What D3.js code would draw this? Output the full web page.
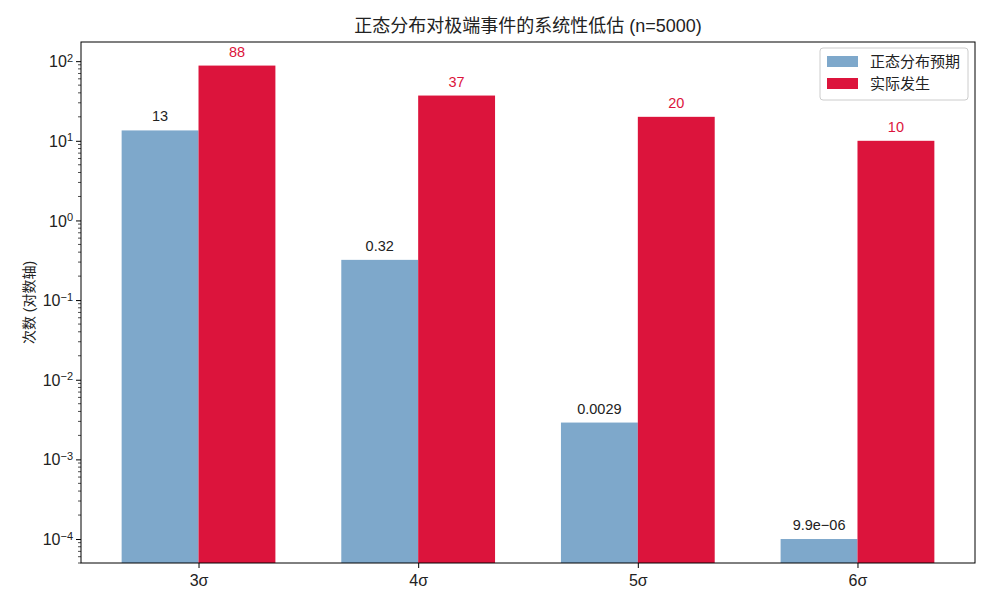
<!DOCTYPE html>
<html>
<head>
<meta charset="utf-8">
<script src="https://cdn.jsdelivr.net/npm/d3@7"></script>
<style>
  body { margin: 0; background: #fff; }
  text { font-family: "Liberation Sans", "Noto Sans CJK SC", sans-serif; fill: #222; }
</style>
</head>
<body>
<div id="chart"></div>
<script>
const categories = ["3σ", "4σ", "5σ", "6σ"];
const expected = [13.5, 0.32, 0.0029, 9.9e-06];      // normal distribution prediction
const expectedLabels = ["13", "0.32", "0.0029", "9.9e−06"];
const actual = [88, 37, 20, 10];
const seriesNames = ["正态分布预期", "实际发生"];
const yTicks = [1e-4, 1e-3, 1e-2, 1e-1, 1, 10, 100];
const floorValue = 1e-4; // bars below this are drawn at the floor

let width = 990, height = 605,
    margin = ({ top: 42, right: 15, bottom: 42, left: 81 });

const svg = d3.select("#chart").append("svg")
    .attr("width", width).attr("height", height);

let x = d3.scaleLinear()
    .domain([-0.535, categories.length - 1 + 0.535])
    .range([margin.left, width - margin.right]);

let y = d3.scaleLog()
    .domain([5e-5, 174])
    .range([height - margin.bottom, margin.top]);

const bw = 0.35;
const blue = "#7ea8cb", red = "#dc143c";

// bars
const g = svg.append("g");
g.selectAll("rect.exp")
  .data(expected)
  .join("rect")
  .attr("x", (d, i) => x(i - bw))
  .attr("width", x(bw) - x(0))
  .attr("y", d => y(Math.max(d, floorValue)))
  .attr("height", d => y(5e-5) - y(Math.max(d, floorValue)))
  .attr("fill", blue);

g.selectAll("rect.act")
  .data(actual)
  .join("rect")
  .attr("x", (d, i) => x(i))
  .attr("width", x(bw) - x(0))
  .attr("y", d => y(d))
  .attr("height", d => y(5e-5) - y(d))
  .attr("fill", red);

// value labels
g.selectAll("text.exp")
  .data(expected)
  .join("text")
  .attr("x", (d, i) => x(i - bw / 2))
  .attr("y", d => y(Math.max(d, floorValue)) - 9)
  .attr("text-anchor", "middle")
  .style("font-size", "14.5px")
  .text((d, i) => expectedLabels[i]);

g.selectAll("text.act")
  .data(actual)
  .join("text")
  .attr("x", (d, i) => x(i + bw / 2))
  .attr("y", d => y(d) - 9)
  .attr("text-anchor", "middle")
  .style("font-size", "14.5px")
  .style("fill", red)
  .text(d => d);

// x axis
const xAxis = svg.append("g")
  .attr("transform", `translate(0,${height - margin.bottom})`)
  .call(d3.axisBottom(x).tickValues(d3.range(categories.length))
    .tickFormat(i => categories[i]).tickSizeOuter(0).tickSize(5));
xAxis.selectAll("text").style("font-size", "16px").attr("dy", "0.95em");
xAxis.select(".domain").remove();

// y axis minor ticks
let minor = [];
for (let e = -5; e <= 2; e++) for (let m = 2; m <= 9; m++) {
  const v = m * Math.pow(10, e);
  if (v >= 5e-5 && v <= 174) minor.push(v);
}
svg.append("g")
  .selectAll("line")
  .data(minor)
  .join("line")
  .attr("x1", margin.left - 3).attr("x2", margin.left)
  .attr("y1", d => y(d)).attr("y2", d => y(d))
  .attr("stroke", "#000").attr("stroke-width", 0.7);

const supMinus = n => (n < 0 ? "−" : "") + Math.abs(n);
const yAxis = svg.append("g")
  .attr("transform", `translate(${margin.left},0)`)
  .call(d3.axisLeft(y).tickValues(yTicks).tickFormat("").tickSize(5).tickSizeOuter(0));
yAxis.select(".domain").remove();
yAxis.selectAll(".tick").each(function(d) {
  const t = d3.select(this).append("text")
    .attr("x", -8).attr("dy", "0.35em")
    .attr("text-anchor", "end")
    .style("font-size", "16px");
  t.append("tspan").text("10");
  t.append("tspan").attr("dy", "-0.5em").style("font-size", "11px")
    .text(supMinus(Math.round(Math.log10(d))));
});

// frame
svg.append("rect")
  .attr("x", margin.left).attr("y", margin.top)
  .attr("width", width - margin.left - margin.right)
  .attr("height", height - margin.top - margin.bottom)
  .attr("fill", "none").attr("stroke", "#000").attr("stroke-width", 1);

// title and axis label
svg.append("text")
  .attr("x", (margin.left + width - margin.right) / 2).attr("y", 32)
  .attr("text-anchor", "middle")
  .style("font-size", "18px")
  .text("正态分布对极端事件的系统性低估 (n=5000)");

svg.append("text")
  .attr("transform", `translate(34,${(margin.top + height - margin.bottom) / 2}) rotate(-90)`)
  .attr("text-anchor", "middle")
  .style("font-size", "14px")
  .text("次数 (对数轴)");

// legend
const lg = svg.append("g").attr("transform", "translate(820,48)");
lg.append("rect").attr("width", 148).attr("height", 52).attr("rx", 3)
  .attr("fill", "#fff").attr("fill-opacity", 0.8)
  .attr("stroke", "#ccc");
[blue, red].forEach((c, i) => {
  lg.append("rect").attr("x", 7).attr("y", 8 + i * 22).attr("width", 31).attr("height", 11).attr("fill", c);
  lg.append("text").attr("x", 50).attr("y", 14 + i * 22).attr("dy", "0.35em")
    .style("font-size", "15px").text(seriesNames[i]);
});
</script>
</body>
</html>
